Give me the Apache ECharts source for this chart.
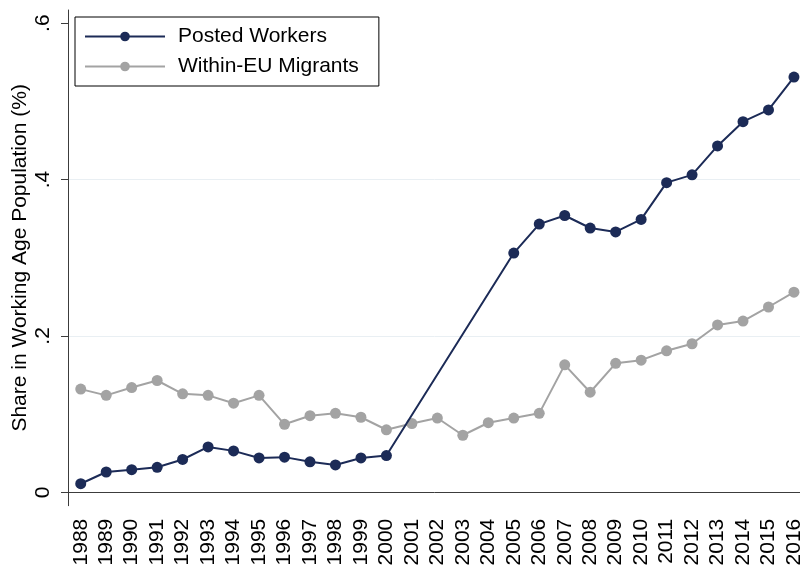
<!DOCTYPE html>
<html>
<head>
<meta charset="utf-8">
<script src="https://cdn.jsdelivr.net/npm/echarts@6/dist/echarts.min.js"></script>
<style>
  html, body { margin: 0; padding: 0; background: #fff; }
  #chart { width: 800px; height: 565px; }
</style>
</head>
<body>
<div id="chart"></div>
<script>
const years = ['1988', '1989', '1990', '1991', '1992', '1993', '1994', '1995', '1996', '1997',
  '1998', '1999', '2000', '2001', '2002', '2003', '2004', '2005', '2006', '2007',
  '2008', '2009', '2010', '2011', '2012', '2013', '2014', '2015', '2016']

// no observations for posted workers 2001-2004
const postedWorkers = [0.011, 0.026, 0.029, 0.032, 0.042, 0.058, 0.053, 0.044, 0.045, 0.039,
  0.035, 0.044, 0.047, null, null, null, null, 0.306, 0.343, 0.354,
  0.338, 0.333, 0.349, 0.396, 0.406, 0.443, 0.474, 0.489, 0.531]

const euMigrants = [0.132, 0.124, 0.134, 0.143, 0.126, 0.124, 0.114, 0.124, 0.087, 0.098,
  0.101, 0.096, 0.080, 0.088, 0.095, 0.073, 0.089, 0.095, 0.101, 0.163,
  0.128, 0.165, 0.169, 0.181, 0.190, 0.214, 0.219, 0.237, 0.256]

const yTicks = [0, 0.2, 0.4, 0.6]

const font = '"Liberation Sans", Arial, Helvetica, sans-serif'
const axisColor = '#3c3c3c'

const chart = echarts.init(document.getElementById('chart'))

const option = {
  animation: false,
  backgroundColor: '#fff',
  textStyle: { fontFamily: font },
  legend: {
    left: 75,
    top: 17,
    orient: 'vertical',
    borderColor: '#000',
    borderWidth: 1,
    padding: [9, 20, 9, 9],
    itemGap: 9,
    itemWidth: 80,
    itemHeight: 12,
    textStyle: { fontSize: 21, color: '#000', fontFamily: font, padding: [0, 0, 0, 8] },
    data: ['Posted Workers', 'Within-EU Migrants']
  },
  grid: {
    left: 68,
    right: -6.7,
    top: 10,
    bottom: 59.3,
    containLabel: false,
    outerBoundsMode: 'none'
  },
  xAxis: {
    type: 'category',
    data: years,
    boundaryGap: true,
    axisLine: { lineStyle: { color: axisColor, width: 1 } },
    axisTick: { alignWithLabel: true, length: 8, lineStyle: { color: axisColor } },
    axisLabel: {
      interval: 0,
      rotate: 90,
      margin: 13,
      fontSize: 21,
      color: '#000',
      fontFamily: font
    },
    splitLine: { show: false }
  },
  yAxis: {
    type: 'value',
    min: -0.0171,
    max: 0.6168,
    splitNumber: 3,
    name: 'Share in Working Age Population (%)',
    nameLocation: 'middle',
    nameRotate: 90,
    nameGap: 37,
    nameMoveOverlap: false,
    nameTextStyle: { fontSize: 21, color: '#000', fontFamily: font },
    axisLine: { show: true, lineStyle: { color: axisColor, width: 1 } },
    axisTick: { show: true, length: 7, customValues: yTicks, lineStyle: { color: axisColor } },
    axisLabel: {
      customValues: yTicks,
      rotate: 90,
      margin: 14,
      fontSize: 21,
      color: '#000',
      fontFamily: font,
      formatter: v => (v === 0 ? '0' : String(Math.round(v * 10) / 10).replace(/^0/, ''))
    },
    splitLine: {
      show: true,
      showMinLine: false,
      showMaxLine: false,
      lineStyle: { color: '#e9eff3', width: 1 }
    }
  },
  series: [
    {
      name: 'Posted Workers',
      type: 'line',
      data: postedWorkers,
      connectNulls: true,
      symbol: 'circle',
      symbolSize: 11,
      lineStyle: { color: '#1c2b57', width: 2 },
      itemStyle: { color: '#1c2b57' },
      z: 3
    },
    {
      name: 'Within-EU Migrants',
      type: 'line',
      data: euMigrants,
      symbol: 'circle',
      symbolSize: 11,
      lineStyle: { color: '#a3a3a3', width: 2 },
      itemStyle: { color: '#a3a3a3' },
      z: 2
    }
  ]
}

chart.setOption(option)
</script>
</body>
</html>
